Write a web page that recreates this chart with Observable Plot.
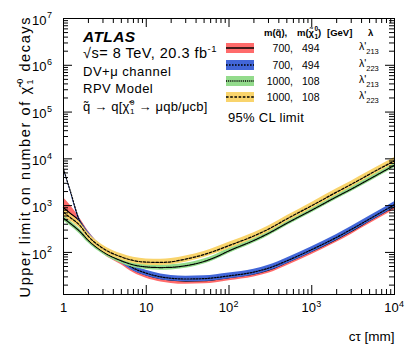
<!DOCTYPE html>
<html>
<head>
<meta charset="utf-8">
<script src="https://cdn.jsdelivr.net/npm/d3@7"></script>
<script src="https://cdn.jsdelivr.net/npm/@observablehq/plot@0.6"></script>
<style>
  html, body { margin: 0; padding: 0; background: white; }
  svg text { font-family: "Liberation Sans", Arial, Helvetica, sans-serif; }
</style>
</head>
<body>
<div id="chart"></div>
<script>
// cτ values [mm]
const ctau = [1, 1.2, 1.56, 2, 3, 5, 7, 10, 15, 20, 30, 50, 70, 100, 200, 300, 500, 1000, 2000, 3000, 5000, 10000];

// m(q~)=700, m(chi)=494, lambda'213 (red band, solid line)
const redMid = [900, 690, 470, 245, 110, 64, 43, 33, 27.5, 25.5, 24.5, 25, 26.5, 29, 35, 42, 61, 106, 193, 285, 480, 960];
const redLo  = [530, 470, 400, 208, 93.5, 54.4, 36.6, 28, 23.4, 21.7, 20.8, 21.3, 22.5, 24.7, 29.8, 35.7, 51.9, 90, 164, 242, 408, 816];
const redHi  = [1480, 1030, 550, 282, 126.5, 73.6, 49.5, 38, 31.6, 29.3, 28.2, 28.8, 30.5, 33.4, 40.3, 48.3, 70.2, 122, 222, 328, 552, 1104];

// m(q~)=700, m(chi)=494, lambda'223 (blue band, dotted line)
const blueMid = [6100, 2140, 480, 240, 115, 68, 46, 36, 30, 28, 27, 27.5, 29, 31.5, 38, 46, 66, 115, 210, 310, 520, 1050];
const blueLo  = [5800, 2030, 430, 209, 100, 59, 40, 31.3, 26.1, 24.4, 23.5, 23.9, 25.2, 27.4, 33, 40, 57.4, 100, 183, 270, 452, 914];
const blueHi  = [6400, 2250, 540, 276, 132, 78, 53, 41.4, 34.5, 32.2, 31, 31.6, 33.4, 36.2, 43.7, 52.9, 75.9, 132, 242, 357, 598, 1208];

// m(q~)=1000, m(chi)=108, lambda'213 (green band, fine dotted line)
const greenMid = [540, 420, 285, 180, 103, 66, 54, 49, 47.5, 48, 52, 64, 80, 108, 180, 255, 420, 800, 1550, 2250, 3700, 7300];
const greenLo  = [475, 370, 251, 158, 91, 58, 47.5, 43.1, 41.8, 42.2, 45.8, 56.3, 70.4, 95, 158, 224, 370, 704, 1364, 1980, 3256, 6424];
const greenHi  = [610, 475, 322, 203, 116, 74.6, 61, 55.4, 53.7, 54.2, 58.8, 72.3, 90.4, 122, 203, 288, 475, 904, 1752, 2543, 4181, 8249];

// m(q~)=1000, m(chi)=108, lambda'223 (yellow band, dashed line)
const yellowMid = [720, 560, 385, 220, 122, 80, 67, 62, 61, 63, 72, 90, 110, 140, 225, 315, 520, 1000, 1950, 2850, 4700, 9100];
const yellowLo  = [619, 482, 331, 189, 105, 68.8, 57.6, 53.3, 52.5, 54.2, 61.9, 77.4, 94.6, 120, 194, 271, 447, 860, 1677, 2451, 4042, 7826];
const yellowHi  = [842, 655, 450, 257, 143, 93.6, 78.4, 72.5, 71.4, 73.7, 84.2, 105, 129, 164, 263, 369, 608, 1170, 2282, 3335, 5499, 10647];

// axis ticks
const xMajor = [1, 10, 100, 1000, 10000];
const xMinorMult = [2, 3, 4, 5, 6, 7, 8, 9];
const xLabelPlain = [1, 10];
const xLabelPlainText = ["1", "10"];
const xLabelPow = [100, 1000, 10000];
const xLabelPowExp = ["2", "3", "4"];
const yMajor = [100, 1e3, 1e4, 1e5, 1e6, 1e7];
const yMajorExp = ["2", "3", "4", "5", "6", "7"];
const yMinorMult = [2, 3, 4, 5, 6, 7, 8, 9];

// legend
const legMq = ["700,", "700,", "1000,", "1000,"];
const legMchi = ["494", "494", "108", "108"];
const legLam = ["213", "223", "213", "223"];
const legFill = ["#ff6b6b", "#4266d8", "#93db8c", "#f9d46c"];
const legDash = [null, "1.6,1.4", "1,0.9", "2.6,1.6"];

const series = [
  {mid: redMid, lo: redLo, hi: redHi, fill: legFill[0], dash: legDash[0]},
  {mid: blueMid, lo: blueLo, hi: blueHi, fill: legFill[1], dash: legDash[1]},
  {mid: greenMid, lo: greenLo, hi: greenHi, fill: legFill[2], dash: legDash[2]},
  {mid: yellowMid, lo: yellowLo, hi: yellowHi, fill: legFill[3], dash: legDash[3]}
];

const W = 415, H = 351, mL = 63, mR = 21, mT = 18, mB = 57;
const fw = W - mL - mR, fh = H - mT - mB;

const xMinor = [];
for (const d of [1, 10, 100, 1000]) for (const m of xMinorMult) xMinor.push(d * m);
const yMinor = [];
for (const d of [10, 100, 1e3, 1e4, 1e5, 1e6]) for (const m of yMinorMult) { const v = d * m; if (v > 12.6) yMinor.push(v); }

const marks = [];
for (const s of series) {
  const rows = ctau.map((x, i) => ({x, mid: s.mid[i], lo: s.lo[i], hi: s.hi[i]}));
  marks.push(Plot.areaY(rows, {x: "x", y1: "lo", y2: "hi", fill: s.fill, curve: "monotone-x"}));
  marks.push(Plot.line(rows, {x: "x", y: "mid", stroke: "black", strokeWidth: s.dash ? 1.2 : 1.3, strokeDasharray: s.dash || undefined, curve: "monotone-x"}));
}

const tk = "black";
marks.push(
  Plot.tickX(xMajor, {x: d => d, stroke: tk, insetTop: fh - 9}),
  Plot.tickX(xMajor, {x: d => d, stroke: tk, insetBottom: fh - 9}),
  Plot.tickX(xMinor, {x: d => d, stroke: tk, insetTop: fh - 5}),
  Plot.tickX(xMinor, {x: d => d, stroke: tk, insetBottom: fh - 5}),
  Plot.tickY(yMajor, {y: d => d, stroke: tk, insetRight: fw - 9}),
  Plot.tickY(yMajor, {y: d => d, stroke: tk, insetLeft: fw - 9}),
  Plot.tickY(yMinor, {y: d => d, stroke: tk, insetRight: fw - 5}),
  Plot.tickY(yMinor, {y: d => d, stroke: tk, insetLeft: fw - 5}),
  Plot.frame({stroke: "black", strokeWidth: 1}),
  // x tick labels
  Plot.text(xLabelPlain, {x: d => d, text: (d, i) => xLabelPlainText[i], frameAnchor: "bottom", dy: 17, fontSize: 13, fill: "black"}),
  Plot.text(xLabelPow, {x: d => d, text: () => "10", frameAnchor: "bottom", dy: 17, dx: -3, fontSize: 13, fill: "black"}),
  Plot.text(xLabelPow, {x: d => d, text: (d, i) => xLabelPowExp[i], frameAnchor: "bottom", dy: 12, dx: 4.5, fontSize: 9, textAnchor: "start", fill: "black"}),
  // y tick labels
  Plot.text(yMajor, {y: d => d, text: () => "10", frameAnchor: "left", dx: -17, dy: 2, fontSize: 13, textAnchor: "end", fill: "black"}),
  Plot.text(yMajor, {y: d => d, text: (d, i) => yMajorExp[i], frameAnchor: "left", dx: -16.5, dy: -3, fontSize: 9, textAnchor: "start", fill: "black"}),
  // x title
  Plot.text(["cτ [mm]"], {frameAnchor: "bottom-right", dy: 46, dx: 0, textAnchor: "end", fontSize: 13.5, fill: "black"})
);

const chart = Plot.plot({
  width: W, height: H,
  marginLeft: mL, marginRight: mR, marginTop: mT, marginBottom: mB,
  x: {type: "log", domain: [1, 1e4], axis: null},
  y: {type: "log", domain: [12.6, 1e7], axis: null},
  style: {fontFamily: "Liberation Sans, Arial, sans-serif", background: "white", overflow: "visible"},
  marks
});
document.getElementById("chart").appendChild(chart);

// annotations and legend
const svg = d3.select(chart);
const font = "Liberation Sans, Arial, sans-serif";
function rich(g, x, y, parts, opts = {}) {
  const t = g.append("text").attr("x", x).attr("y", y)
    .attr("font-family", font).attr("font-size", opts.size || 12)
    .attr("fill", "black").attr("text-anchor", opts.anchor || "start");
  if (opts.weight) t.attr("font-weight", opts.weight);
  if (opts.style) t.attr("font-style", opts.style);
  if (opts.transform) t.attr("transform", opts.transform);
  if (opts.ls) t.attr("letter-spacing", opts.ls);
  for (const p of parts) {
    const s = typeof p === "string" ? {t: p} : p;
    const ts = t.append("tspan").text(s.t);
    if (s.dy) ts.attr("dy", s.dy);
    if (s.dx) ts.attr("dx", s.dx);
    if (s.size) ts.attr("font-size", s.size);
  }
  return t;
}
const g = svg.append("g");

// y-axis title (rotated)
rich(g, 0, 0, [
  "Upper limit on number of χ\u0303",
  {t: "1", size: 9, dy: 3, dx: 1},
  {t: "0", size: 9, dy: -10, dx: -6},
  {t: " decays", dy: 7}
], {size: 14.5, anchor: "end", ls: 1.6, transform: "translate(30,16) rotate(-90)"});

// ATLAS block
rich(g, 83, 42, ["ATLAS"], {size: 15.5, weight: "bold", style: "italic", ls: 0.4});
rich(g, 83, 58, ["√s= 8 TeV, 20.3 fb", {t: "-1", size: 9.5, dy: -6}], {size: 14.5, ls: 0.5});
rich(g, 83, 76, ["DV+μ channel"], {size: 13, ls: 0.5});
rich(g, 83, 93, ["RPV Model"], {size: 13, ls: 0.5});
rich(g, 83, 111, ["q\u0303 → q[χ\u0303", {t: "1", size: 8, dy: 3, dx: 0.5}, {t: "0", size: 8, dy: -9, dx: -4.6}, {t: " → μqb/μcb]", dy: 6}], {size: 13, ls: 0.2});
rich(g, 228, 122, ["95% CL limit"], {size: 13, ls: 0.3});

// legend header
rich(g, 264, 36, ["m(q\u0303),"], {size: 9.5, weight: "bold"});
rich(g, 297, 36, ["m(χ\u0303", {t: "1", size: 6.5, dy: 2.5, dx: 0.3}, {t: "0", size: 6.5, dy: -7.5, dx: -3.6}, {t: ")", dy: 5}], {size: 9.5, weight: "bold"});
rich(g, 327, 36, ["[GeV]"], {size: 9.5, weight: "bold"});
rich(g, 368, 36, ["λ"], {size: 9.5, weight: "bold"});

const rowY = [48, 65, 81, 97];
rowY.forEach((cy, i) => {
  g.append("rect").attr("x", 226).attr("y", cy - 5).attr("width", 28).attr("height", 10).attr("fill", legFill[i]);
  const ln = g.append("line").attr("x1", 226).attr("x2", 254).attr("y1", cy).attr("y2", cy)
    .attr("stroke", "black").attr("stroke-width", legDash[i] ? 1.3 : 1.5);
  if (legDash[i]) ln.attr("stroke-dasharray", legDash[i]);
  rich(g, 293, cy + 4, [legMq[i]], {size: 10.5, anchor: "end"});
  rich(g, 302, cy + 4, [legMchi[i]], {size: 10.5});
  rich(g, 359, cy + 2, ["λ'", {t: legLam[i], size: 7.5, dy: 4}], {size: 10.5});
});
</script>
</body>
</html>
